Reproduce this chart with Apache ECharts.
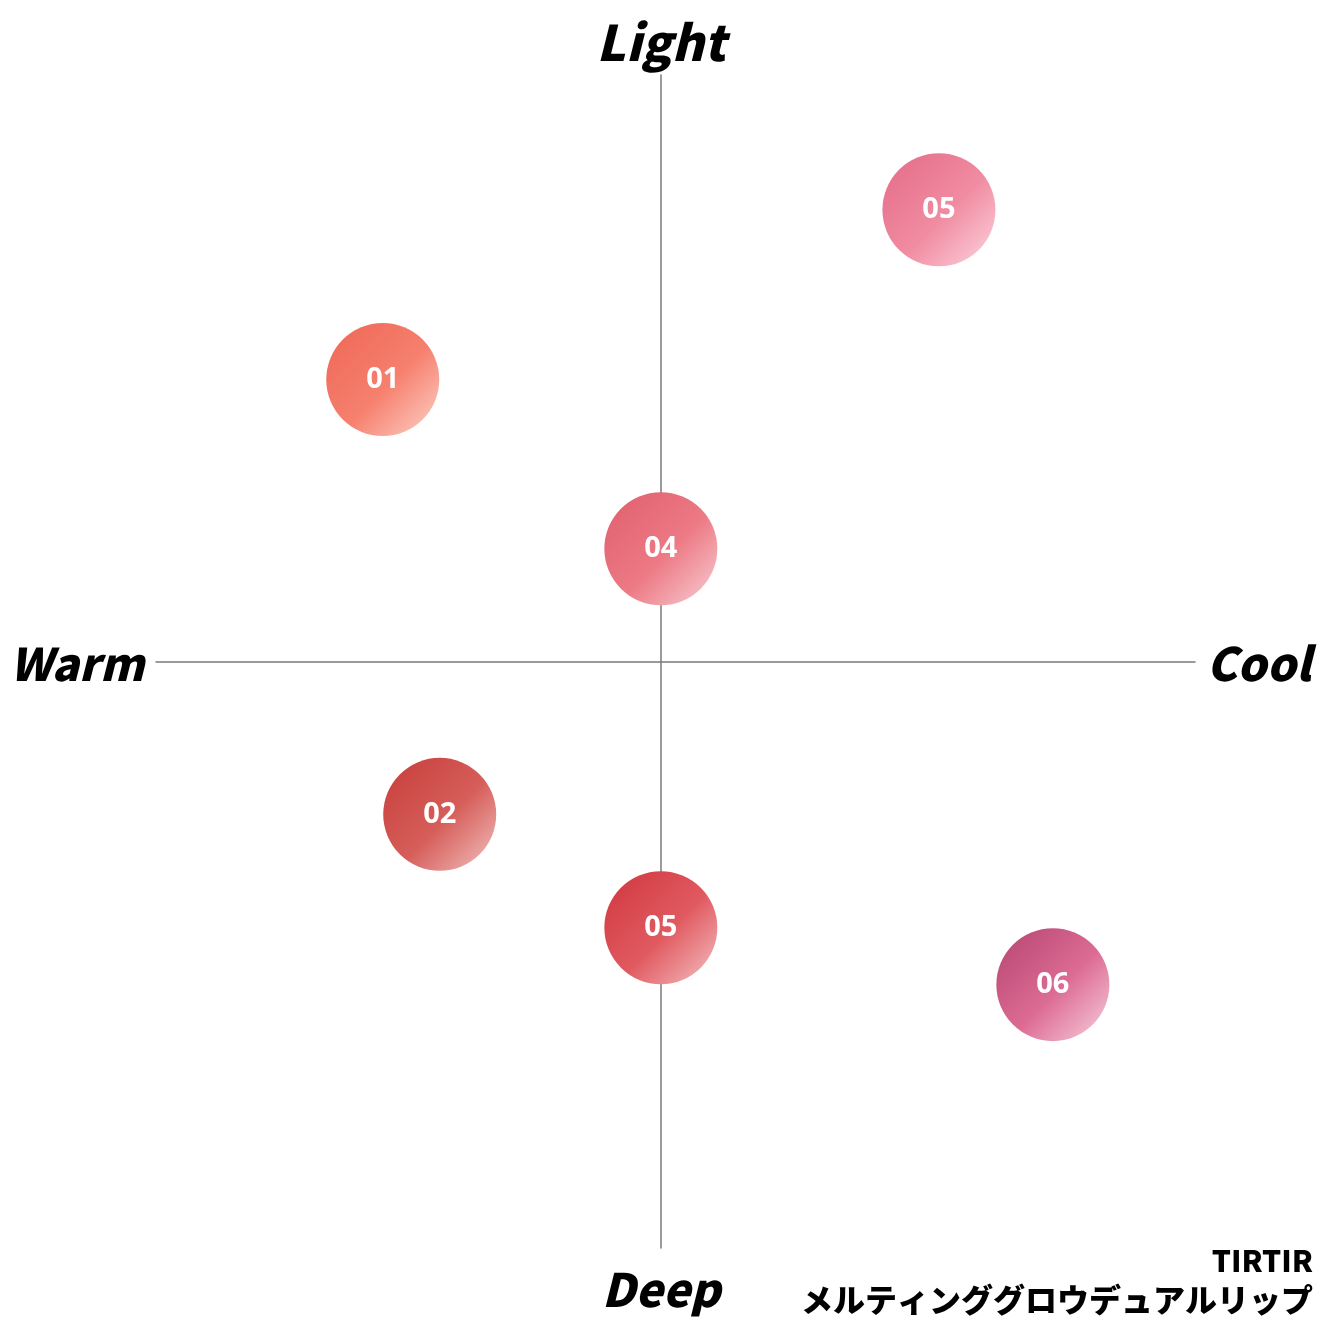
<!DOCTYPE html>
<html lang="ja">
<head>
    <meta charset="UTF-8">
    <title>TIRTIR メルティンググロウデュアルリップ</title>
    <script type="text/javascript" src="https://cdn.jsdelivr.net/npm/echarts@6/dist/echarts.min.js"></script>
    <style>
        html, body { margin: 0; padding: 0; background: #fff; }
        #main { width: 1323px; height: 1323px; }
    </style>
</head>
<body>
<div id="main"></div>
<script type="text/javascript">
    // shade names, positions (warm<0<cool, deep<0<light)
    var shades = ['05', '01', '04', '02', '05', '06'];
    var xVals = [4.93, -4.93, 0, -3.92, 0, 6.95];
    var yVals = [8.01, 5.0, 2.0, -2.71, -4.72, -5.73];
    // gradient colors: dark (top-left), mid, light (bottom-right)
    var darkCols = ['#e56a86', '#ee6655', '#e05e6c', '#c63d3a', '#d1363e', '#b4456f'];
    var midCols = ['#f08ca2', '#f6806e', '#ec7a85', '#d65e5a', '#e05a60', '#dd6c94'];
    var lightCols = ['#fdd5df', '#fdd3ca', '#fad0d6', '#f3c3c2', '#f6c3c6', '#f8d2df'];

    var pts = [];
    for (var i = 0; i < shades.length; i++) {
        pts.push({
            value: [xVals[i], yVals[i]],
            name: shades[i],
            itemStyle: {
                opacity: 1,
                color: {
                    type: 'linear', x: 0, y: 0, x2: 1, y2: 1,
                    colorStops: [
                        {offset: 0, color: darkCols[i]},
                        {offset: 0.55, color: midCols[i]},
                        {offset: 1, color: lightCols[i]}
                    ]
                }
            }
        });
    }

    var bigFont = {
        fontFamily: 'Noto Sans CJK JP',
        fontWeight: 900,
        fontStyle: 'italic',
        fontSize: 45,
        fill: '#000'
    };
    function txt(t, x, y, align, extra) {
        var s = Object.assign({}, bigFont, {text: t, x: x, y: y, textAlign: align, textVerticalAlign: 'middle'}, extra || {});
        return {type: 'text', style: s};
    }

    var myChart = echarts.init(document.getElementById('main'));
    var option = {
        animation: false,
        grid: {left: 156, right: 128, top: 75, bottom: 75},
        xAxis: {
            type: 'value', min: -8.95, max: 9.47,
            axisLine: {onZero: true, lineStyle: {color: '#7a7a7a', width: 1.5}},
            axisTick: {show: false}, axisLabel: {show: false}, splitLine: {show: false}
        },
        yAxis: {
            type: 'value', min: -10.4, max: 10.4,
            axisLine: {onZero: true, lineStyle: {color: '#7a7a7a', width: 1.5}},
            axisTick: {show: false}, axisLabel: {show: false}, splitLine: {show: false}
        },
        series: [{
            type: 'scatter',
            symbol: 'circle',
            symbolSize: 113,
            itemStyle: {opacity: 1},
            data: pts,
            label: {
                show: true,
                position: 'inside',
                formatter: '{b}',
                color: '#fff',
                fontFamily: 'Open Sans',
                fontWeight: 'bold',
                fontSize: 29
            }
        }],
        graphic: [
            txt('Light', 661, 42, 'center', {fontSize: 49}),
            txt('Deep', 661, 1290, 'center', {fontSize: 46}),
            txt('Warm', 10, 664, 'left'),
            txt('Cool', 1311, 664, 'right', {fontSize: 46}),
            txt('TIRTIR', 1313, 1261, 'right', {fontSize: 30, fontStyle: 'normal'}),
            txt('メルティンググロウデュアルリップ', 1313, 1300, 'right', {fontSize: 32, fontStyle: 'normal'})
        ]
    };
    myChart.setOption(option);
</script>
</body>
</html>
